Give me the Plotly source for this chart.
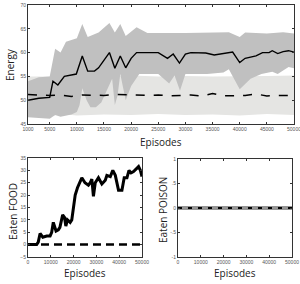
import plotly.graph_objects as go

# ---- Top: Energy ----
x_mean = [1000, 3000, 5000, 5600, 6500, 7700, 9900, 11000, 12000, 13250, 14000, 16000, 17000, 18000, 19000,
          20000, 21000, 23000, 25000, 26700, 27750, 28900, 30000, 31000, 33750, 35300, 37500, 38700, 40000,
          41000, 43000, 44200, 45400, 46000, 47000, 48000, 49000, 50000]
y_mean = [50.0, 50.4, 50.6, 54.0, 53.2, 55.0, 55.5, 59.3, 56.1, 56.1, 56.8, 60.0, 56.7, 59.3, 56.8,
          58.8, 60.0, 60.0, 60.0, 58.8, 59.7, 57.8, 59.7, 60.0, 59.9, 59.5, 59.9, 60.1, 57.9,
          58.8, 59.3, 60.0, 60.0, 60.4, 59.8, 60.2, 60.4, 60.1]

x_up = [1000, 3000, 5000, 5500, 6000, 7000, 8000, 10000, 11000, 12000, 14000, 16000, 17000, 18000, 19000,
        21000, 23000, 30000, 35000, 38000, 40000, 41000, 45000, 48000, 50000]
y_up = [54.0, 54.8, 55.0, 58.0, 60.8, 60.0, 62.3, 63.0, 66.0, 63.3, 64.2, 66.2, 64.2, 66.0, 63.5,
        65.3, 64.1, 64.1, 64.2, 64.3, 63.3, 64.2, 64.0, 64.3, 64.0]

x_lo = [1000, 5000, 6000, 7000, 9000, 10000, 10500, 11000, 11800, 12500, 13500, 14500, 15500, 16500, 17000,
        17500, 18000, 19000, 20000, 21500, 25000, 27000, 28000, 29000, 30000, 34000, 37000, 38000, 40000,
        42000, 44000, 46000, 47000, 49000, 50000]
y_lo = [46.4, 46.1, 46.9, 46.5, 47.0, 47.5, 49.0, 52.5, 50.0, 48.5, 48.5, 49.5, 52.0, 54.5, 49.0,
        51.0, 55.5, 50.0, 53.0, 55.5, 55.5, 53.5, 55.2, 52.0, 55.5, 55.5, 55.8, 56.5, 52.3,
        54.5, 55.5, 56.0, 55.5, 57.0, 56.7]

x_base = [1000, 3000, 5000, 7000, 9000, 11000, 13000, 15000, 17000, 19000, 21000, 23000, 25000, 27000,
          29000, 31000, 33000, 35000, 37000, 39000, 41000, 43000, 45000, 47000, 49000, 50000]
y_base = [51.2, 51.1, 51.0, 51.1, 50.8, 51.1, 51.0, 51.0, 51.2, 51.1, 51.0, 51.0, 51.1, 50.9,
          51.0, 51.1, 50.9, 51.4, 50.9, 51.0, 51.0, 51.3, 50.9, 51.0, 51.0, 51.2]

x_band2 = [1000, 5000, 7000, 10000, 15000, 20000, 25000, 30000, 35000, 40000, 45000, 50000]
y_band2_up = [55.0, 55.1, 55.0, 55.0, 55.1, 55.2, 55.0, 55.1, 55.0, 55.0, 55.1, 55.2]
y_band2_lo = [46.9, 46.6, 47.1, 46.8, 47.0, 46.9, 47.1, 46.9, 47.0, 46.8, 47.1, 46.9]

x_ticks_top = [1000, 5000, 10000, 15000, 20000, 25000, 30000, 35000, 40000, 45000, 50000]
y_ticks_top = [45, 50, 55, 60, 65, 70]

# ---- Bottom left: Eaten FOOD ----
x_food = [0, 3800, 4500, 5300, 6500, 8200, 9700, 10400, 11100, 12300, 13300, 14000, 15200, 16000, 16600,
          17300, 18500, 19200, 20700, 21700, 23600, 25000, 26500, 27300, 28000, 28700, 29500, 30900, 32400,
          33900, 34600, 36100, 37200, 38300, 39700, 41200, 42200, 43400, 44300, 45200, 46300, 47800, 48500,
          49300, 50000]
y_food = [0, 0, 1, 4.5, 3, 3.5, 3.5, 5, 9, 5.5, 6, 7, 12, 11, 7.5,
          10, 9, 10, 20, 23, 27, 25, 24, 25, 26.5, 19.5, 25, 27, 24.5,
          26, 28, 27.5, 30, 28, 22, 22, 27, 27, 30, 29, 29.5, 31, 31.5,
          30, 27.5]
x_food_base = [0, 50000]
y_food_base = [0, 0]
x_ticks_bottom = [0, 10000, 20000, 30000, 40000, 50000]
y_ticks_food = [-5, 0, 5, 10, 15, 20, 25, 30, 35]

# ---- Bottom right: Eaten POISON ----
x_poison = [0, 50000]
y_poison = [0, 0]
y_poison_base = [0, 0]
y_ticks_poison = [-1, -0.5, 0, 0.5, 1]
y_ticktext_poison = ["-1", "-.5", "0", ".5", "1"]

DARK = "rgb(192,192,192)"
LIGHT = "rgb(229,229,227)"

fig = go.Figure()

def band(x_u, y_u, x_l, y_l, color, xa, ya):
    fig.add_trace(go.Scatter(x=list(x_u) + list(x_l)[::-1], y=list(y_u) + list(y_l)[::-1],
                             fill="toself", fillcolor=color, line=dict(width=0), mode="lines",
                             hoverinfo="skip", showlegend=False, xaxis=xa, yaxis=ya))

band(x_band2, y_band2_up, x_band2, y_band2_lo, LIGHT, "x", "y")
band(x_up, y_up, x_lo, y_lo, DARK, "x", "y")
fig.add_trace(go.Scatter(x=x_base, y=y_base, mode="lines", line=dict(color="black", width=1.5, dash="dash"),
                         showlegend=False, xaxis="x", yaxis="y"))
fig.add_trace(go.Scatter(x=x_mean, y=y_mean, mode="lines", line=dict(color="black", width=1.4),
                         showlegend=False, xaxis="x", yaxis="y"))

fig.add_trace(go.Scatter(x=x_food_base, y=y_food_base, mode="lines",
                         line=dict(color="black", width=2.5, dash="8px,5px"),
                         showlegend=False, xaxis="x2", yaxis="y2"))
fig.add_trace(go.Scatter(x=x_food, y=y_food, mode="lines", line=dict(color="black", width=3),
                         showlegend=False, xaxis="x2", yaxis="y2"))

fig.add_trace(go.Scatter(x=x_poison, y=y_poison, mode="lines", line=dict(color="rgb(150,150,150)", width=4),
                         showlegend=False, xaxis="x3", yaxis="y3"))
fig.add_trace(go.Scatter(x=x_poison, y=y_poison_base, mode="lines",
                         line=dict(color="black", width=2, dash="4px,6px"),
                         showlegend=False, xaxis="x3", yaxis="y3"))

tickfont = dict(family="Liberation Sans, Arial", size=5, color="#555")
axcommon = dict(showline=True, linecolor="#333", linewidth=1, mirror="ticks", ticks="inside",
                ticklen=2, tickcolor="#333", showgrid=False, zeroline=False, tickfont=tickfont,
                automargin=False, ticklabeloverflow="allow")

fig.update_layout(
    width=300, height=284, margin=dict(l=0, r=0, t=0, b=0, pad=0, autoexpand=False),
    paper_bgcolor="white", plot_bgcolor="white",
    xaxis=dict(domain=[0.0933, 0.98], range=[1000, 50000], anchor="y", tickvals=x_ticks_top,
               tickformat="d", **axcommon),
    yaxis=dict(domain=[0.5634, 0.9824], range=[45, 70], anchor="x", tickvals=y_ticks_top, **axcommon),
    xaxis2=dict(domain=[0.0933, 0.4733], range=[0, 50000], anchor="y2", tickvals=x_ticks_bottom,
                tickformat="d", **axcommon),
    yaxis2=dict(domain=[0.0951, 0.4437], range=[-5, 35], anchor="x2", tickvals=y_ticks_food, **axcommon),
    xaxis3=dict(domain=[0.5933, 0.9733], range=[0, 50000], anchor="y3", tickvals=x_ticks_bottom,
                tickformat="d", **axcommon),
    yaxis3=dict(domain=[0.0951, 0.44], range=[-1, 1], anchor="x3",
                tickvals=y_ticks_poison, ticktext=y_ticktext_poison, **axcommon),
)

titlefont = dict(family="Open Sans, Lato, sans-serif", size=10, color="#222")
ann = [
    dict(text="Energy", x=10, y=65, textangle=-90),
    dict(text="Episodes", x=161, y=142),
    dict(text="Eaten FOOD", x=13, y=212, textangle=-90),
    dict(text="Episodes", x=85, y=273),
    dict(text="Eaten POISON", x=163, y=210, textangle=-90),
    dict(text="Episodes", x=235, y=273),
]
for a in ann:
    fig.add_annotation(text=a["text"], x=a["x"] / 300, y=1 - a["y"] / 284, xref="paper", yref="paper",
                       showarrow=False, textangle=a.get("textangle", 0), font=titlefont,
                       xanchor="center", yanchor="middle")

fig.write_html("out.html", config={"displayModeBar": False},
               post_script="document.body.style.margin='0px';")
